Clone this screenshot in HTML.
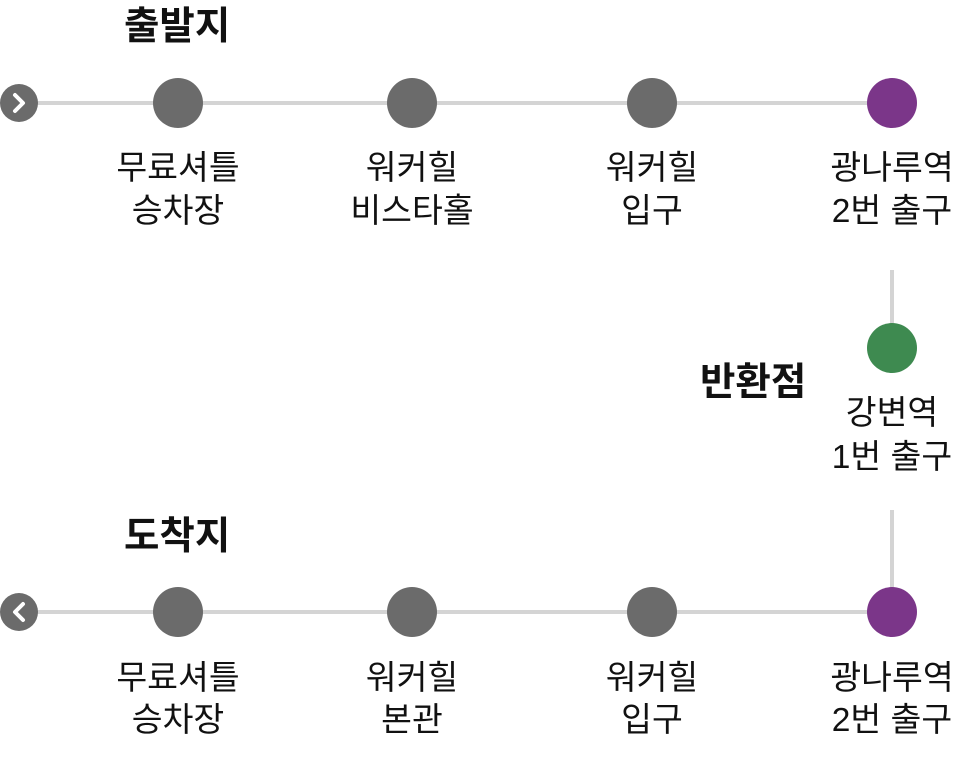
<!DOCTYPE html>
<html><head><meta charset="utf-8"><style>
html,body{margin:0;padding:0;background:#fff;width:975px;height:765px;overflow:hidden}
svg text{font-family:"Liberation Sans","Noto Sans CJK KR",sans-serif;fill:#111}
.l{font-size:33.5px;text-anchor:middle}
.b{font-size:38.5px;font-weight:bold}
</style></head><body>
<svg width="975" height="765" viewBox="0 0 975 765">
<g stroke="#d4d4d4" stroke-width="4">
<line x1="19" y1="103" x2="892" y2="103"/>
<line x1="19" y1="612" x2="892" y2="612"/>
<line x1="892" y1="270" x2="892" y2="330"/>
<line x1="892" y1="510" x2="892" y2="600"/>
</g>
<circle cx="19" cy="103" r="19" fill="#6b6b6b"/>
<polyline points="15,95 23,103 15,111" fill="none" stroke="#fff" stroke-width="4" stroke-linecap="round" stroke-linejoin="round"/>
<circle cx="19" cy="612" r="19" fill="#6b6b6b"/>
<polyline points="23,604 15,612 23,620" fill="none" stroke="#fff" stroke-width="4" stroke-linecap="round" stroke-linejoin="round"/>
<g fill="#6b6b6b">
<circle cx="178" cy="103" r="25"/><circle cx="412" cy="103" r="25"/><circle cx="652" cy="103" r="25"/>
<circle cx="178" cy="612" r="25"/><circle cx="412" cy="612" r="25"/><circle cx="652" cy="612" r="25"/>
</g>
<circle cx="892" cy="103" r="25" fill="#7b3689"/>
<circle cx="892" cy="612" r="25" fill="#7b3689"/>
<circle cx="892" cy="348" r="25" fill="#3e8a50"/>
<text class="b" x="124" y="39">출발지</text>
<text class="b" x="124" y="549">도착지</text>
<text class="b" x="700" y="395">반환점</text>
<text class="l" x="178" y="179">무료셔틀</text><text class="l" x="178" y="222">승차장</text>
<text class="l" x="412" y="179">워커힐</text><text class="l" x="412" y="222">비스타홀</text>
<text class="l" x="652" y="179">워커힐</text><text class="l" x="652" y="222">입구</text>
<text class="l" x="892" y="179">광나루역</text><text class="l" x="892" y="222">2번 출구</text>
<text class="l" x="892" y="424">강변역</text><text class="l" x="892" y="468">1번 출구</text>
<text class="l" x="178" y="689">무료셔틀</text><text class="l" x="178" y="731">승차장</text>
<text class="l" x="412" y="689">워커힐</text><text class="l" x="412" y="731">본관</text>
<text class="l" x="652" y="689">워커힐</text><text class="l" x="652" y="731">입구</text>
<text class="l" x="892" y="689">광나루역</text><text class="l" x="892" y="731">2번 출구</text>
</svg>
</body></html>
